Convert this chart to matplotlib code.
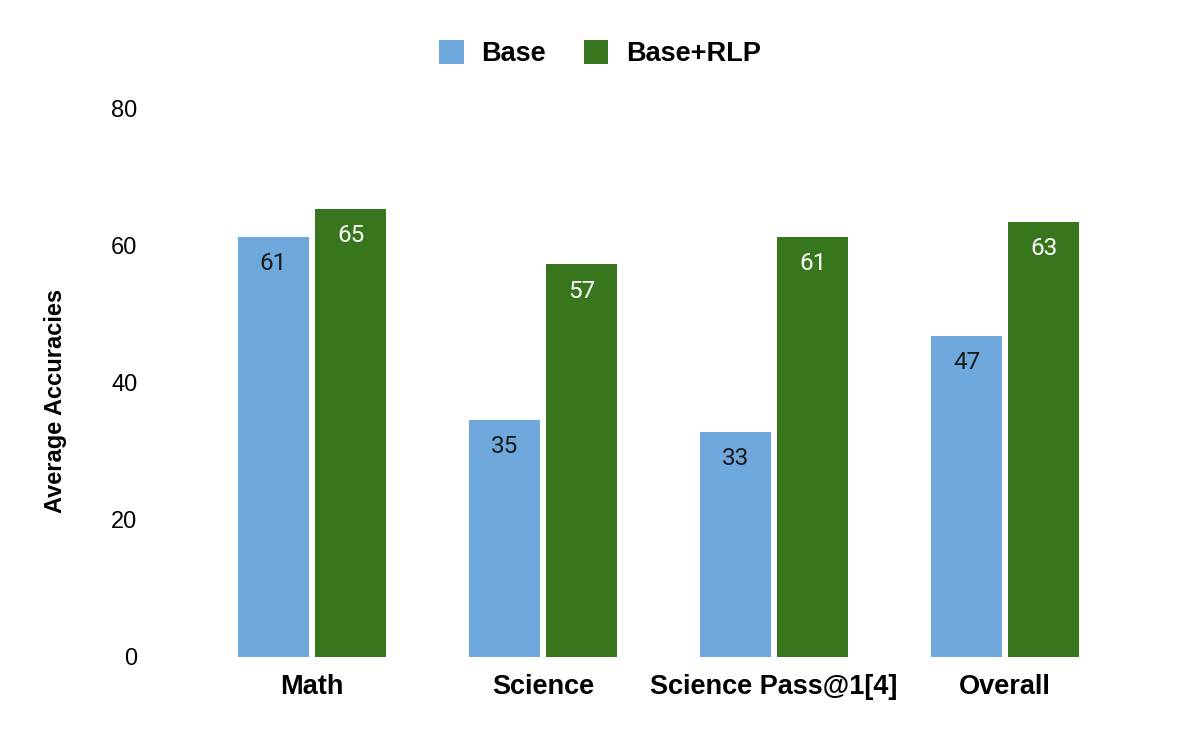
import matplotlib
matplotlib.use("Agg")
import numpy as np
import matplotlib.pyplot as plt
from matplotlib.patches import Patch

categories = ["Math", "Science", "Science Pass@1[4]", "Overall"]
base_vals = [61.2, 34.6, 32.8, 46.8]
rlp_vals = [65.3, 57.2, 61.2, 63.4]
base_labels = ["61", "35", "33", "47"]
rlp_labels = ["65", "57", "61", "63"]
series_names = ["Base", "Base+RLP"]
yticks = [0, 20, 40, 60, 80]

c_base = "#6fa8dc"
c_rlp = "#38761d"

fig = plt.figure(figsize=(12, 7.42), dpi=100)
ax = fig.add_axes([0.125, 0.1146, 0.8417, 0.7398])

x = np.arange(len(categories))
w = 0.307
off = 0.167
ax.bar(x - off, base_vals, w, color=c_base)
ax.bar(x + off, rlp_vals, w, color=c_rlp)

# value labels sit inside the top of each bar
for xi, v, s in zip(x, base_vals, base_labels):
    ax.text(xi - off, v - 3.9, s, ha="center", va="center", fontsize=17.5,
            family="Roboto", color="#1a1a1a")
for xi, v, s in zip(x, rlp_vals, rlp_labels):
    ax.text(xi + off, v - 3.9, s, ha="center", va="center", fontsize=17.5,
            family="Roboto", color="white")

ax.set_xlim(-0.701, 3.671)
ax.set_ylim(0, 80)
ax.set_yticks(yticks)
ax.set_yticklabels([str(t) for t in yticks], family="Liberation Sans", fontsize=17)
ax.set_xticks(x)
ax.set_xticklabels(categories, family="Liberation Sans", fontsize=19.5, fontweight="bold")
ax.tick_params(axis="both", length=0)
ax.tick_params(axis="y", pad=9)
ax.tick_params(axis="x", pad=12)
for sp in ax.spines.values():
    sp.set_visible(False)

fig.text(0.046, 0.46, "Average Accuracies", rotation=90, ha="center", va="center",
         family="Liberation Sans", fontsize=17, fontweight="bold")

handles = [Patch(facecolor=c_base), Patch(facecolor=c_rlp)]
fig.legend(handles, series_names, loc="center", bbox_to_anchor=(0.5, 0.928), ncol=2,
           frameon=False, prop={"family": "Liberation Sans", "size": 19.5, "weight": "bold"},
           handlelength=0.9, handleheight=1.0, handletextpad=0.65, columnspacing=1.4)

fig.savefig("out.png", dpi=100, facecolor="white")
